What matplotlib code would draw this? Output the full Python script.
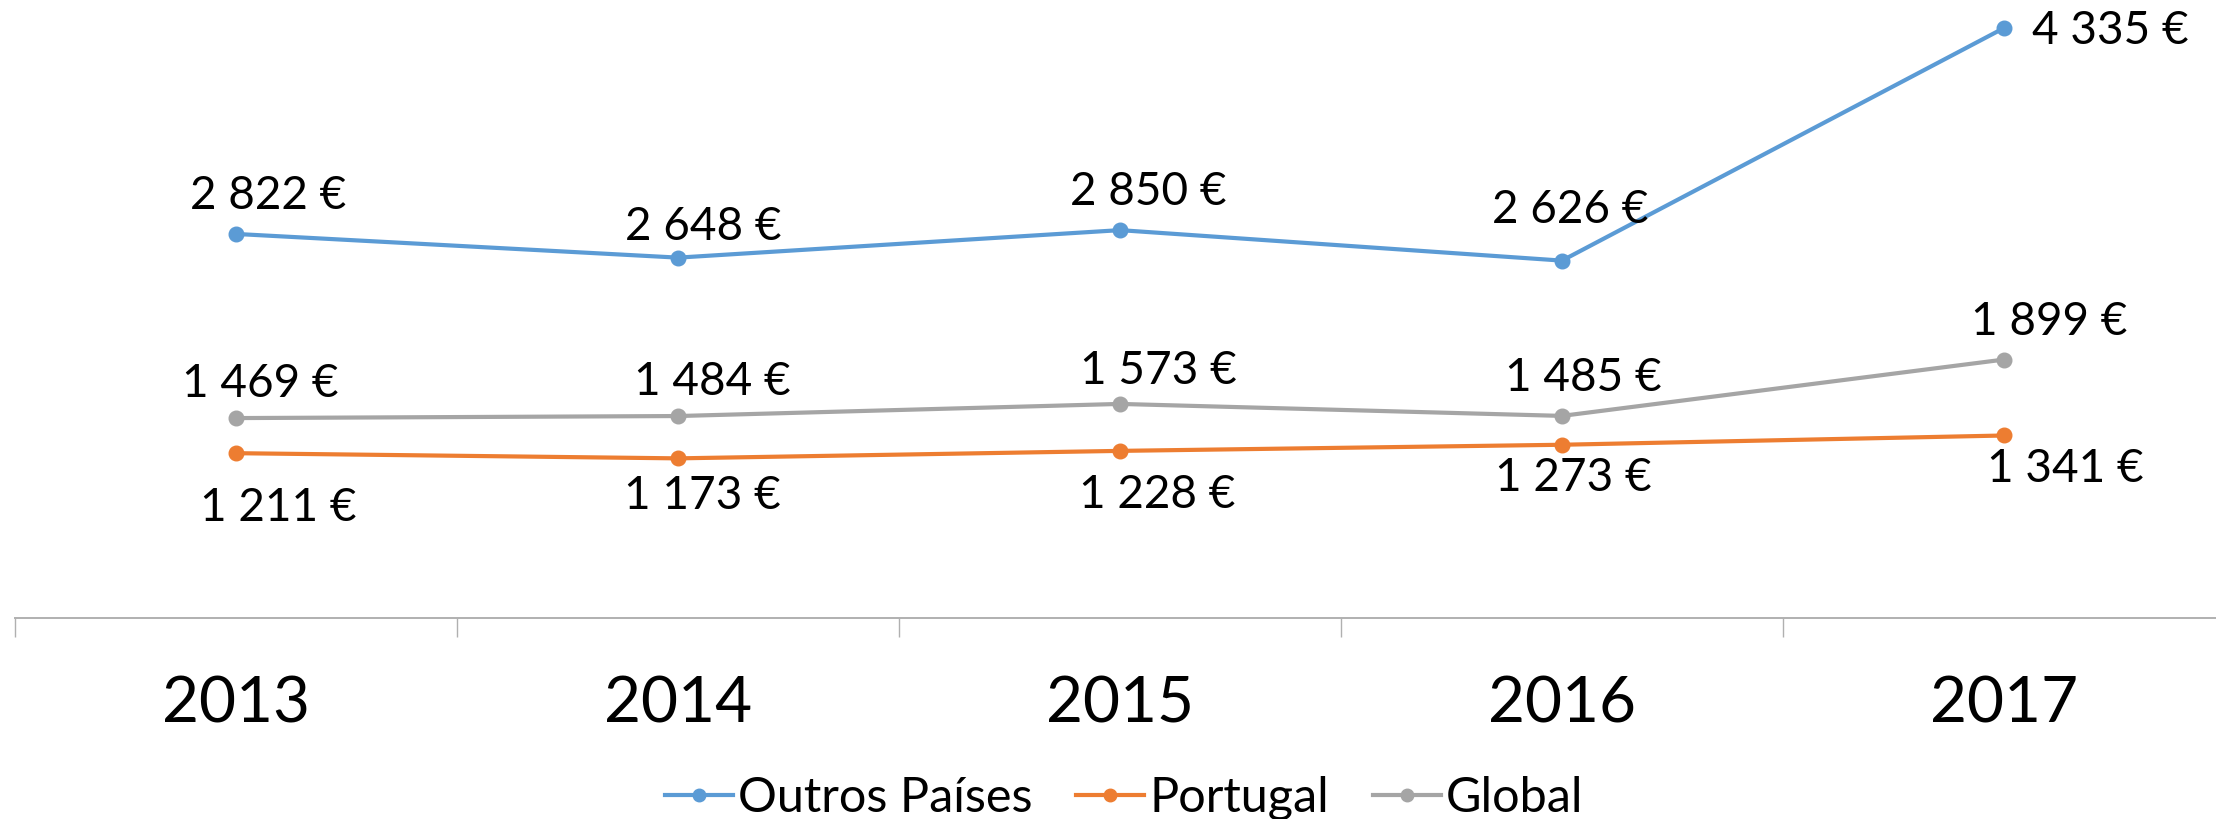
import matplotlib
matplotlib.use("Agg")
import matplotlib.pyplot as plt
from matplotlib.lines import Line2D

# data
years = ['2013', '2014', '2015', '2016', '2017']
outros = [2822, 2648, 2850, 2626, 4335]
portugal = [1211, 1173, 1228, 1273, 1341]
global_ = [1469, 1484, 1573, 1485, 1899]

series_names = ['Outros Países', 'Portugal', 'Global']
colors = ['#5b9bd5', '#ed7d31', '#a5a5a5']

# label offsets (pixels, right / up) for each data label, per series
label_off = [
    [(32, 38), (25, 31), (28, 38), (8, 51), (106, -3)],
    [(42, -55), (24, -38), (37, -44), (11, -33), (61, -34)],
    [(24, 34), (34, 34), (38, 33), (21, 38), (45, 38)],
]

plt.rcParams['font.family'] = ['Lato', 'DejaVu Sans']


def euro(v):
    return f'{v:,}'.replace(',', ' ') + ' €'


W, H = 2216, 819
fig = plt.figure(figsize=(W / 100, H / 100), dpi=100)
ax = fig.add_axes([15 / W, (H - 618) / H, 2210 / W, 618 / H])

x = list(range(len(years)))
all_series = [outros, portugal, global_]
for vals, col, offs in zip(all_series, colors, label_off):
    ax.plot(x, vals, color=col, lw=3.0, marker='o', ms=10.5, zorder=3)
    for xi, v, (dx, dy) in zip(x, vals, offs):
        ax.annotate(euro(v), (xi, v), xytext=(dx * 0.72, dy * 0.72),
                    textcoords='offset points', ha='center', va='center',
                    fontsize=33, color='black')

ax.set_xlim(-0.5, len(years) - 0.5)
ax.set_ylim(0, 4541)
ax.set_yticks([])
for s in ['top', 'right', 'left']:
    ax.spines[s].set_visible(False)
ax.spines['bottom'].set_color('#b0b0b0')
ax.spines['bottom'].set_linewidth(1.4)

# category ticks sit between the years
ax.set_xticks([i - 0.5 for i in range(len(years) + 1)])
ax.set_xticklabels([])
ax.tick_params(axis='x', direction='out', length=14, width=1.0, color='#b0b0b0')
for xi, yr in zip(x, years):
    ax.text(xi, -0.14, yr, transform=ax.get_xaxis_transform(),
            ha='center', va='center', fontsize=46, color='black')

handles = [Line2D([0], [0], color=c, lw=3.0, marker='o', ms=9) for c in colors]
fig.legend(handles, series_names, loc='center', bbox_to_anchor=(1124 / W, 1 - 798 / H),
           ncol=3, frameon=False, fontsize=35, handlelength=1.4, handletextpad=0.1,
           columnspacing=0.9, borderpad=0)

fig.savefig('out.png', dpi=100)
